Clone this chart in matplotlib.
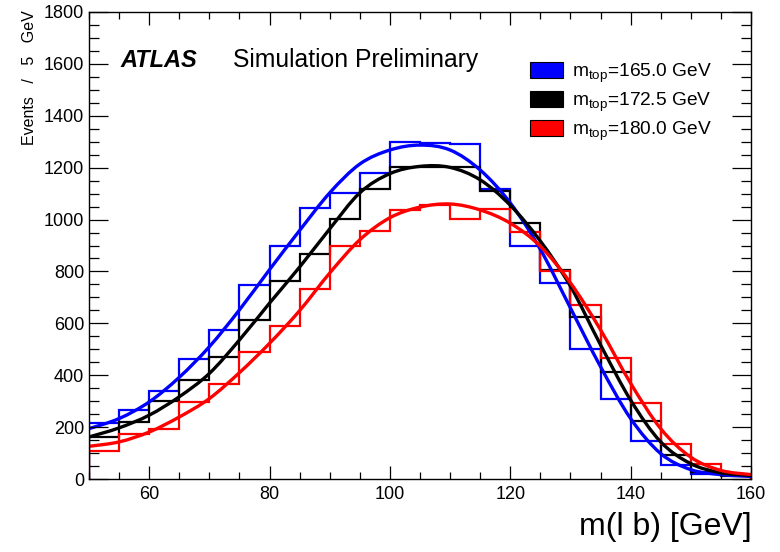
import numpy as np
import matplotlib
matplotlib.use('Agg')
import matplotlib.pyplot as plt
from matplotlib.path import Path
from matplotlib.patches import PathPatch, Rectangle
from matplotlib.ticker import MultipleLocator

plt.rcParams['font.family'] = ['Liberation Sans', 'DejaVu Sans']
plt.rcParams['mathtext.fontset'] = 'custom'
plt.rcParams['mathtext.rm'] = 'Liberation Sans'
plt.rcParams['mathtext.it'] = 'Liberation Sans:italic'

# ---------------- data ----------------
bin_edges = np.arange(50, 161, 5)          # 22 bins of 5 GeV
curve_x = np.arange(50, 161, 5)            # points

hist_165 = [215, 265, 339, 461, 575, 748, 900, 1046, 1104, 1178, 1298, 1294,
            1290, 1119, 900, 756, 500, 310, 146, 55, 20, 14]
hist_1725 = [160, 219, 301, 381, 469, 614, 762, 869, 1003, 1117, 1201, 1203,
             1203, 1110, 985, 805, 623, 411, 224, 91, 26, 12]
hist_180 = [106, 175, 194, 297, 368, 491, 588, 733, 897, 955, 1035, 1055,
            1003, 1039, 951, 800, 672, 465, 293, 136, 56, 17]

fit_165 = [194, 233, 297, 392, 510, 652, 807, 958, 1103, 1214, 1268, 1287,
           1268, 1191, 1064, 885, 659, 433, 233, 98, 36, 17, 10]
fit_1725 = [162, 197, 246, 317, 407, 536, 678, 817, 964, 1103, 1177, 1205,
            1201, 1153, 1055, 917, 743, 517, 304, 143, 59, 24, 14]
fit_180 = [126, 143, 181, 239, 310, 410, 523, 649, 794, 922, 1007, 1048,
           1060, 1037, 986, 897, 756, 575, 369, 194, 84, 33, 17]

labels = [r'm$_{\mathrm{top}}$=165.0 GeV',
          r'm$_{\mathrm{top}}$=172.5 GeV',
          r'm$_{\mathrm{top}}$=180.0 GeV']
colors = ['#0000ff', '#000000', '#ff0000']

# ---------------- figure ----------------
W, H = 780, 552
fig = plt.figure(figsize=(W / 100, H / 100), dpi=100)
fx = lambda px: px / W
fy = lambda py: 1 - py / H

ax = fig.add_axes([fx(89), fy(479), (751 - 89) / W, (479 - 12) / H])


def smooth_path(x, y):
    pts = np.column_stack([x, y]).astype(float)
    n = len(pts)
    verts = [pts[0]]
    codes = [Path.MOVETO]
    for i in range(n - 1):
        p0 = pts[i - 1] if i > 0 else pts[i]
        p1 = pts[i]
        p2 = pts[i + 1]
        p3 = pts[i + 2] if i + 2 < n else pts[i + 1]
        c1 = p1 + (p2 - p0) / 6.0
        c2 = p2 - (p3 - p1) / 6.0
        verts += [c1, c2, p2]
        codes += [Path.CURVE4] * 3
    return Path(verts, codes)


for vals, c in zip([hist_165, hist_1725, hist_180], colors):
    ax.stairs(vals, bin_edges, color=c, lw=1.6, baseline=0)

for fit, c in zip([fit_165, fit_1725, fit_180], colors):
    ax.add_patch(PathPatch(smooth_path(curve_x, fit), fill=False,
                           edgecolor=c, lw=2.4, capstyle='round'))

ax.set_xlim(50, 160)
ax.set_ylim(0, 1800)
ax.xaxis.set_major_locator(MultipleLocator(20))
ax.xaxis.set_minor_locator(MultipleLocator(5))
ax.yaxis.set_major_locator(MultipleLocator(200))
ax.yaxis.set_minor_locator(MultipleLocator(50))
ax.tick_params(axis='both', which='both', direction='in', top=True, right=True,
               width=0.9, labelsize=13, colors='black')
ax.tick_params(axis='x', which='major', length=9.4, pad=5)
ax.tick_params(axis='x', which='minor', length=5)
ax.tick_params(axis='y', which='major', length=13.7, pad=3.5)
ax.tick_params(axis='y', which='minor', length=7)
for s in ax.spines.values():
    s.set_linewidth(1.0)

# texts
fig.text(fx(120), fy(67), 'ATLAS', fontsize=17, weight='bold', style='italic',
         va='baseline', ha='left')
fig.text(fx(233), fy(67), 'Simulation Preliminary', fontsize=17.8,
         va='baseline', ha='left')
fig.text(fx(30), fy(10), 'Events   /   5   GeV', rotation=90, fontsize=11.5,
         ha='center', va='top')
fig.text(fx(752), fy(535), 'm(l b) [GeV]', fontsize=23, ha='right',
         va='baseline')

# legend
row_top = [62, 91, 120]
for lab, c, ty in zip(labels, colors, row_top):
    fig.patches.append(Rectangle((fx(530), fy(ty + 16)), 33 / W, 16 / H,
                                 facecolor=c, edgecolor='black', lw=0.8,
                                 transform=fig.transFigure, figure=fig))
    fig.text(fx(572), fy(ty + 15), lab, fontsize=13.8, ha='left', va='baseline')

fig.savefig('out.png', dpi=100)
